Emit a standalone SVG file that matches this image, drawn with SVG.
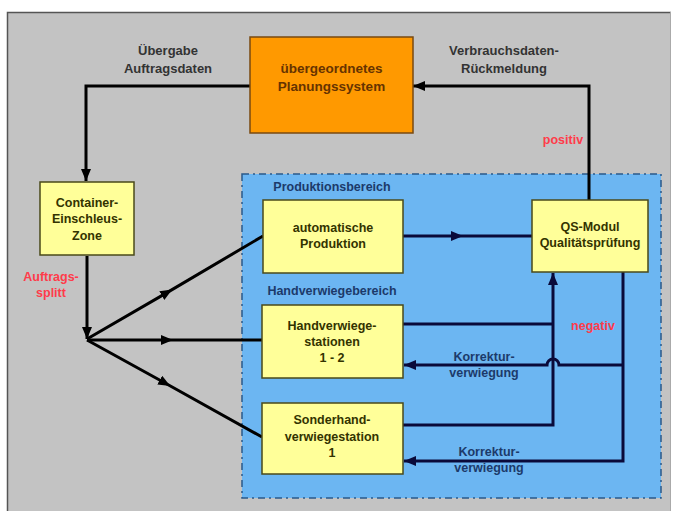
<svg xmlns="http://www.w3.org/2000/svg" width="674" height="516" viewBox="0 0 674 516">
<defs>
<style>
.t{font-family:"Liberation Sans",Arial,sans-serif;font-weight:bold;text-anchor:middle;}
.box{fill:#ffff99;stroke:#4a4a1a;stroke-width:1.5;}
.bt{font-size:12.5px;fill:#333300;}
.lbl{font-size:13px;fill:#333333;}
.red{font-size:12.5px;fill:#ff3b4a;}
.navy{font-size:12.5px;fill:#1c3a6a;}
.lk{fill:none;stroke:#000;stroke-width:3;}
.ln{fill:none;stroke:#0a0a3a;stroke-width:3;}
</style>
<marker id="ak" viewBox="0 0 12 10" refX="12" refY="5" markerWidth="12" markerHeight="10" markerUnits="userSpaceOnUse" orient="auto"><path d="M0,0 L12,5 L0,10 Z" fill="#000"/></marker>
<marker id="akm" viewBox="0 0 12 10" refX="6" refY="5" markerWidth="12" markerHeight="10" markerUnits="userSpaceOnUse" orient="auto"><path d="M0,0 L12,5 L0,10 Z" fill="#000"/></marker>
<marker id="an" viewBox="0 0 12 10" refX="12" refY="5" markerWidth="12" markerHeight="10" markerUnits="userSpaceOnUse" orient="auto"><path d="M0,0 L12,5 L0,10 Z" fill="#0a0a3a"/></marker>
<marker id="anm" viewBox="0 0 12 10" refX="6" refY="5" markerWidth="12" markerHeight="10" markerUnits="userSpaceOnUse" orient="auto"><path d="M0,0 L12,5 L0,10 Z" fill="#0a0a3a"/></marker>
</defs>
<rect x="0" y="0" width="674" height="516" fill="#ffffff"/>
<rect x="7" y="12" width="664" height="499" fill="#c3c3c3"/>
<path d="M7.5,511 V12.5 H671" fill="none" stroke="#555" stroke-width="1.5"/>
<path d="M670.5,12 V511" fill="none" stroke="#aaa" stroke-width="1"/>

<g id="bereich">
<rect x="242" y="174" width="419" height="324" fill="#6cb6f2" stroke="#2a5a8a" stroke-width="1.5" stroke-dasharray="7,4,2,4"/>
<text class="t navy" x="332" y="191">Produktionsbereich</text>
<text class="t navy" x="332" y="295">Handverwiegebereich</text>
</g>

<g id="connectors">
<path class="lk" d="M250,86 H86 V181" marker-end="url(#ak)"/>
<path class="lk" d="M589,200 V86 H413" marker-end="url(#ak)"/>
<path class="lk" d="M87,256 V339" marker-end="url(#ak)"/>
<path class="lk" d="M87,339 L167,292.6 L263,236" marker-mid="url(#akm)"/>
<path class="lk" d="M87,340 L167,340 L262,340" marker-mid="url(#akm)"/>
<path class="lk" d="M87,340 L165,383 L262,437" marker-mid="url(#akm)"/>
<path class="ln" d="M403,236 L457,236 L532,236" marker-mid="url(#anm)"/>
<path class="ln" d="M403,324 H553"/>
<path class="ln" d="M403,425 H553 V273" marker-end="url(#an)"/>
<path class="ln" d="M623,272 V461 H404" marker-end="url(#an)"/>
<path class="ln" d="M623,365 H559 A6,6 0 0 0 547,365 H404" marker-end="url(#an)"/>
</g>

<g id="labels">
<text class="t lbl" x="168" y="55">Übergabe</text>
<text class="t lbl" x="168" y="73">Auftragsdaten</text>
<text class="t lbl" x="504" y="55">Verbrauchsdaten-</text>
<text class="t lbl" x="504" y="73">Rückmeldung</text>
<text class="t red" x="563" y="144">positiv</text>
<text class="t red" x="51" y="281">Auftrags-</text>
<text class="t red" x="51" y="297">splitt</text>
<text class="t red" x="593" y="330">negativ</text>
<text class="t navy" x="484" y="361">Korrektur-</text>
<text class="t navy" x="484" y="377">verwiegung</text>
<text class="t navy" x="489" y="456">Korrektur-</text>
<text class="t navy" x="489" y="472">verwiegung</text>
</g>

<g id="planungssystem">
<rect x="250" y="37" width="163" height="96" fill="#ff9900" stroke="#7a4a10" stroke-width="1.5"/>
<text class="t" x="331.5" y="73" font-size="13.5" fill="#663300">übergeordnetes</text>
<text class="t" x="331.5" y="91" font-size="13.5" fill="#663300">Planungssystem</text>
</g>

<g id="container">
<rect class="box" x="40" y="182" width="94" height="73"/>
<text class="t bt" x="87" y="207">Container-</text>
<text class="t bt" x="87" y="223">Einschleus-</text>
<text class="t bt" x="87" y="240">Zone</text>
</g>

<g id="automatisch">
<rect class="box" x="263" y="200" width="140" height="73"/>
<text class="t bt" x="333" y="232">automatische</text>
<text class="t bt" x="333" y="248">Produktion</text>
</g>

<g id="handverwiege">
<rect class="box" x="262" y="305" width="141" height="73"/>
<text class="t bt" x="332" y="330">Handverwiege-</text>
<text class="t bt" x="332" y="346">stationen</text>
<text class="t bt" x="332" y="362">1 - 2</text>
</g>

<g id="sonderhand">
<rect class="box" x="262" y="403" width="141" height="71"/>
<text class="t bt" x="332" y="424">Sonderhand-</text>
<text class="t bt" x="332" y="441">verwiegestation</text>
<text class="t bt" x="332" y="457">1</text>
</g>

<g id="qs">
<rect class="box" x="532" y="200" width="116" height="72"/>
<text class="t bt" x="590" y="231">QS-Modul</text>
<text class="t bt" x="590" y="247">Qualitätsprüfung</text>
</g>
</svg>
